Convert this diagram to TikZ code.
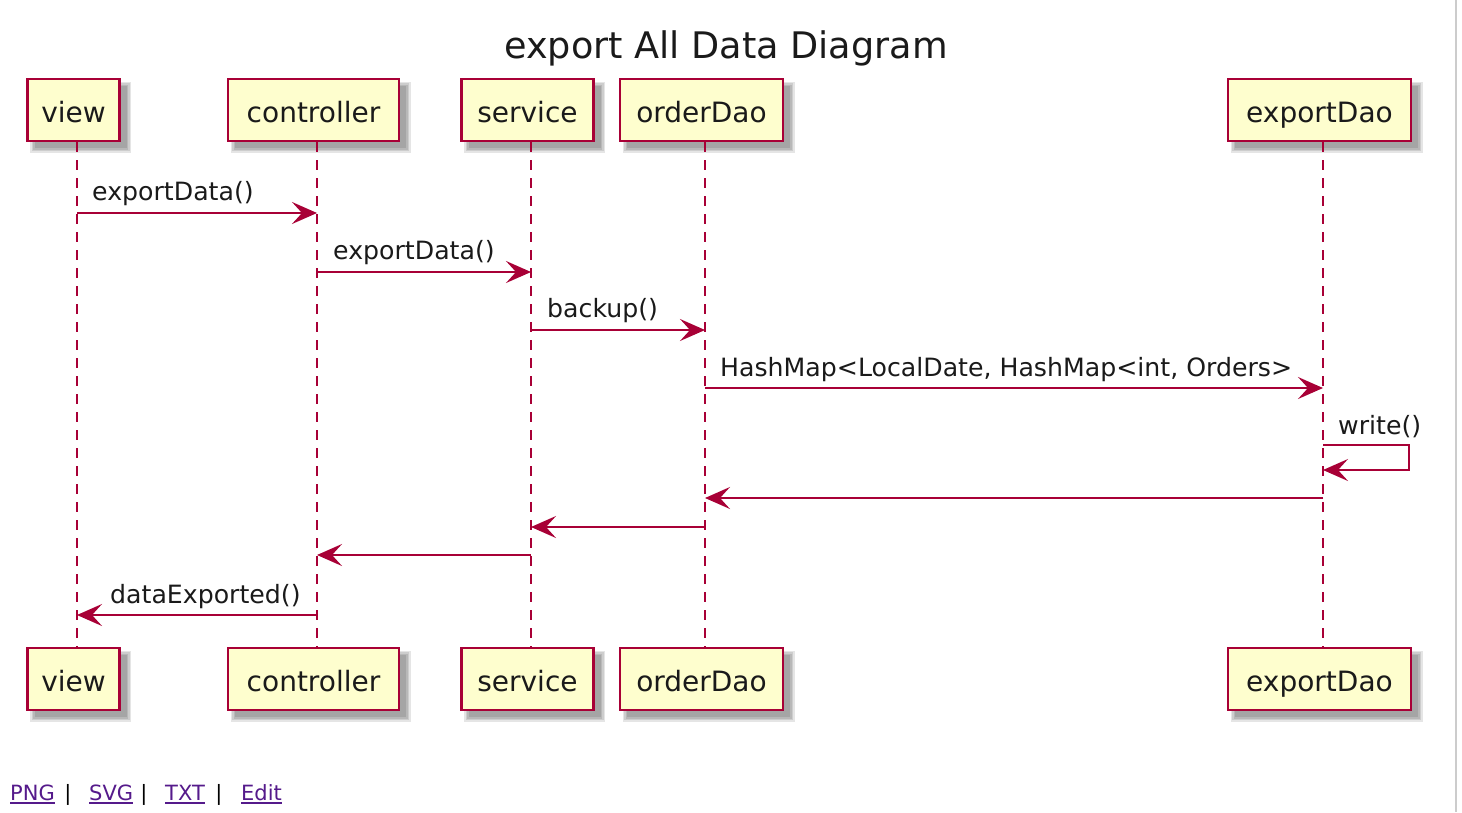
\documentclass[tikz,border=0pt]{standalone}
\usepackage{fontspec}
\setmainfont{DejaVu Sans}
\usetikzlibrary{arrows.meta,calc}
\definecolor{pborder}{HTML}{A80036}
\definecolor{pfill}{HTML}{FEFECE}
\definecolor{linkc}{HTML}{551A8B}
\definecolor{txt}{HTML}{1A1A1A}
\newcommand\pbox[5]{%
  \foreach \s in {0,1.5,3,4.5}{%
    \fill[black,opacity=0.10] (#2-#4/2+7-\s,#3-31+7-\s) rectangle (#2+#4/2+7+\s,#3+31+7+\s);}
  \node[part,minimum width=#4pt] (#1) at (#2,#3) {#5};}
\begin{document}
\begin{tikzpicture}[x=1pt,y=-1pt,
  part/.style={draw=pborder,line width=2.7pt,fill=pfill,minimum height=62pt,inner sep=0pt,
    text height=28pt,text depth=4pt,font=\fontsize{28}{28}\selectfont,text=txt},
  life/.style={draw=pborder,line width=2pt,dash pattern=on 10pt off 8pt},
  msg/.style={draw=pborder,line width=2pt,-{Stealth[length=25pt,width=22pt,inset=10pt]}},
  lbl/.style={font=\fontsize{25.2}{25.2}\selectfont,anchor=base west,inner sep=0pt,text=txt},
  lnk/.style={font=\fontsize{21}{21}\selectfont,anchor=base west,inner sep=0pt,text=linkc},
  sep/.style={font=\fontsize{21}{21}\selectfont,anchor=base,inner sep=0pt,text=black}]
\fill[white] (0,0) rectangle (1462,812);
\useasboundingbox (0,0) rectangle (1462,812);
\draw[black!20,line width=2pt] (1456,0) -- (1456,812);

\node[font=\fontsize{36.6}{36.6}\selectfont,anchor=base,inner sep=0pt,text=txt] (title) at (726,58) {export All Data Diagram};

% lifeline x positions
\coordinate (vx) at (77,0);
\coordinate (cx) at (317,0);
\coordinate (sx) at (531,0);
\coordinate (ox) at (705,0);
\coordinate (ex) at (1323,0);

% participants
\pbox{viewT}{73.5}{110}{92}{view}
\pbox{ctrlT}{313.5}{110}{171}{controller}
\pbox{servT}{527.5}{110}{132}{service}
\pbox{ordT}{701.5}{110}{163}{orderDao}
\pbox{expT}{1319.5}{110}{183}{exportDao}
\pbox{viewB}{73.5}{679}{92}{view}
\pbox{ctrlB}{313.5}{679}{171}{controller}
\pbox{servB}{527.5}{679}{132}{service}
\pbox{ordB}{701.5}{679}{163}{orderDao}
\pbox{expB}{1319.5}{679}{183}{exportDao}

% lifelines
\draw[life] (vx |- viewT.south) -- (vx |- viewB.north);
\draw[life] (cx |- ctrlT.south) -- (cx |- ctrlB.north);
\draw[life] (sx |- servT.south) -- (sx |- servB.north);
\draw[life] (ox |- ordT.south) -- (ox |- ordB.north);
\draw[life] (ex |- expT.south) -- (ex |- expB.north);

% message rows
\coordinate (m1) at (0,213);
\coordinate (m2) at (0,272);
\coordinate (m3) at (0,330);
\coordinate (m4) at (0,388);
\coordinate (m5a) at (0,445);
\coordinate (m5b) at (0,470);
\coordinate (m6) at (0,498);
\coordinate (m7) at (0,527);
\coordinate (m8) at (0,555);
\coordinate (m9) at (0,615);

\draw[msg] (vx |- m1) -- (cx |- m1);
\node[lbl] (l1) at (92,200) {exportData()};
\draw[msg] (cx |- m2) -- (sx |- m2);
\node[lbl] (l2) at (333,259) {exportData()};
\draw[msg] (sx |- m3) -- (ox |- m3);
\node[lbl] (l3) at (547,317) {backup()};
\draw[msg] (ox |- m4) -- (ex |- m4);
\node[lbl] (l4) at (720,376) {HashMap<LocalDate, HashMap<int, Orders>};
\draw[msg] (ex |- m5a) -- ++(86,0) -- ++(0,25) -- (ex |- m5b);
\node[lbl] (l5) at (1338,434) {write()};
\draw[msg] (ex |- m6) -- (ox |- m6);
\draw[msg] (ox |- m7) -- (sx |- m7);
\draw[msg] (sx |- m8) -- (cx |- m8);
\draw[msg] (cx |- m9) -- (vx |- m9);
\node[lbl] (l9) at (110,603) {dataExported()};

% links
\node[lnk] (png) at (10,800) {PNG};
\node[sep] (s1) at (68,800) {|};
\node[lnk] (svg) at (89,800) {SVG};
\node[sep] (s2) at (144,800) {|};
\node[lnk] (txt) at (165,800) {TXT};
\node[sep] (s3) at (219,800) {|};
\node[lnk] (edit) at (241,800) {Edit};
\foreach \n in {png,svg,txt,edit}{
  \draw[linkc,line width=1.5pt] ($(\n.base west)+(0,3)$) -- ($(\n.base east)+(0,3)$);}
\end{tikzpicture}
\end{document}
